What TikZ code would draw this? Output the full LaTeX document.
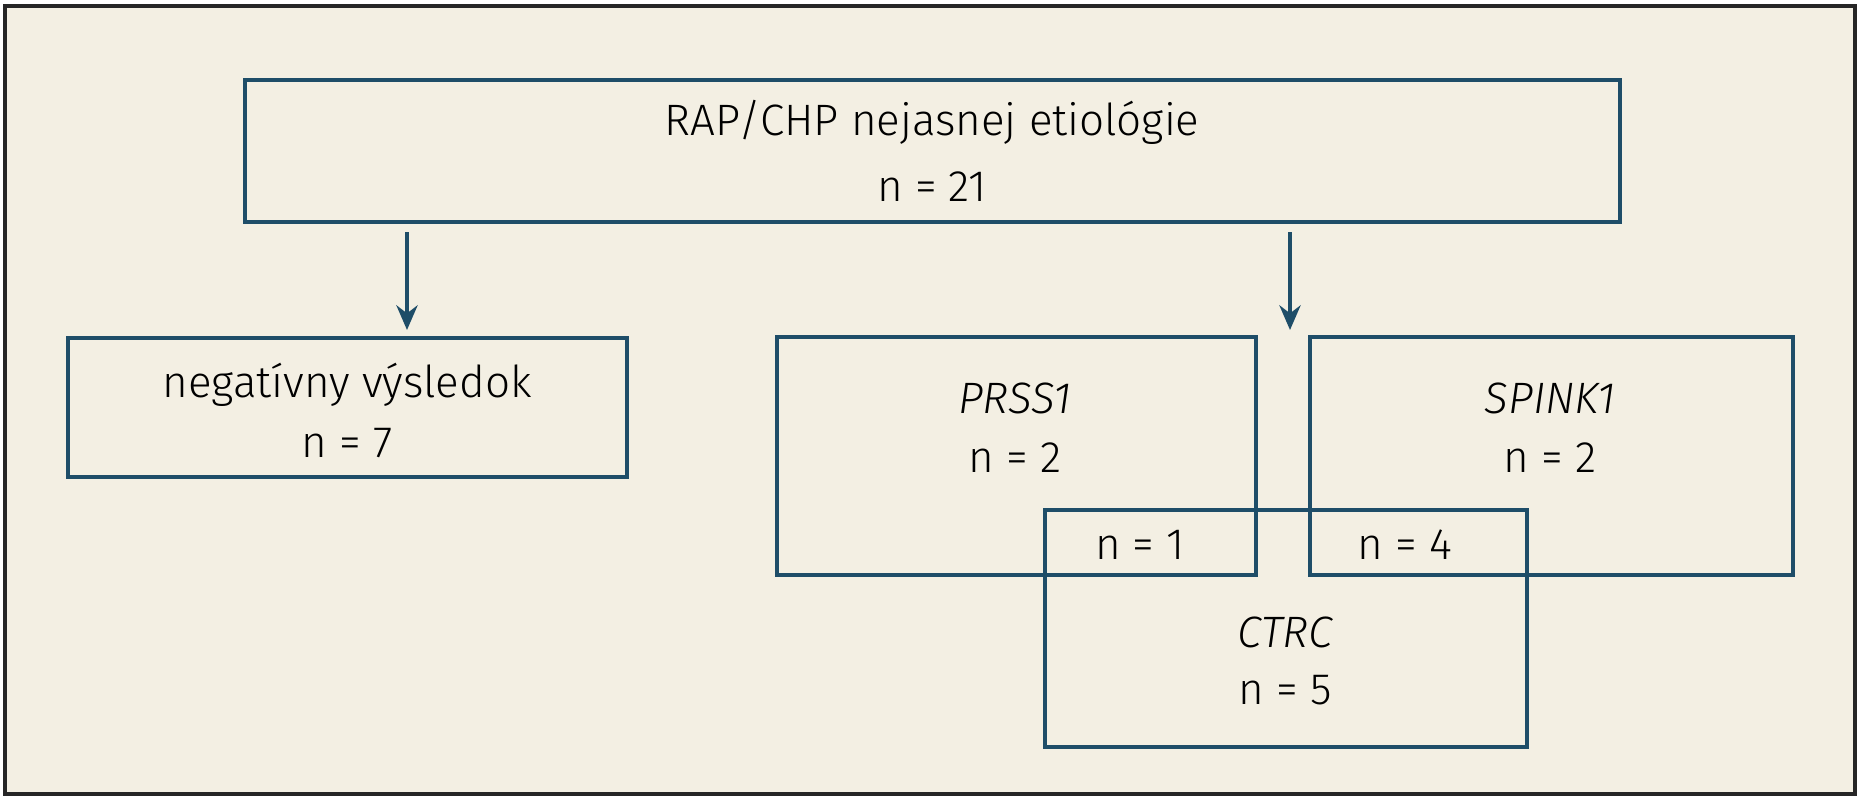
\documentclass[tikz,border=0pt]{standalone}
\usetikzlibrary{arrows.meta}
\usepackage{fontspec}
\setmainfont{Fira Sans}[UprightFont=* Light, ItalicFont=* Light Italic]
\begin{document}
\begin{tikzpicture}[x=0.01cm,y=-0.01cm,
  box/.style={draw=boxc,line width=1.2pt,fill=none},
  lbl/.style={font=\fontsize{12.5}{14}\selectfont,text=black,inner sep=0},
  arr/.style={draw=boxc,line width=1.2pt,-{Stealth[length=7pt,width=6pt]}}]
\definecolor{boxc}{HTML}{1E4D68}
\definecolor{bg}{HTML}{F3EFE3}
\useasboundingbox (0,0) rectangle (1861,800);
\draw[fill=bg,draw=black!85,line width=1pt] (5,6) rectangle (1855,794);
\draw[box] (245,80) rectangle (1620,222);
\node[lbl] (t1) at (932,122) {RAP/CHP nejasnej etiológie};
\node[lbl] (t2) at (932,187) {n = 21};
\coordinate (a1) at (407,232); \coordinate (b1) at (407,330);
\coordinate (a2) at (1290,232); \coordinate (b2) at (1290,330);
\draw[arr] (a1) -- (b1);
\draw[arr] (a2) -- (b2);
\draw[box] (68,338) rectangle (627,477);
\node[lbl] (n1) at (347,385) {negatívny výsledok};
\node[lbl] (n2) at (347,443) {n = 7};
\draw[box] (777,337) rectangle (1256,575);
\draw[box] (1310,337) rectangle (1793,575);
\draw[box] (1045,510) rectangle (1527,747);
\node[lbl] (p1) at (1015,398) {\itshape PRSS1};
\node[lbl] (p2) at (1015,458) {n = 2};
\node[lbl] (s1) at (1550,398) {\itshape SPINK1};
\node[lbl] (s2) at (1550,458) {n = 2};
\node[lbl] (o1) at (1140,545) {n = 1};
\node[lbl] (o2) at (1405,545) {n = 4};
\node[lbl] (c1) at (1285,632) {\itshape CTRC};
\node[lbl] (c2) at (1285,690) {n = 5};
\end{tikzpicture}
\end{document}
